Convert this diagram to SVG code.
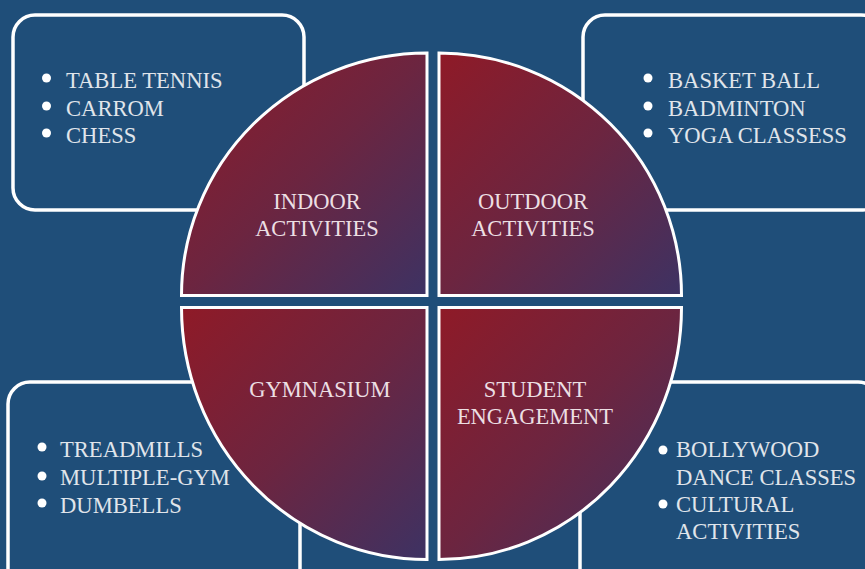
<svg xmlns="http://www.w3.org/2000/svg" width="865" height="569" viewBox="0 0 865 569">
<defs>
<linearGradient id="qg" x1="0" y1="0" x2="1" y2="1">
<stop offset="0" stop-color="#8f1a27"/>
<stop offset="0.5" stop-color="#6c2540"/>
<stop offset="1" stop-color="#3d3263"/>
</linearGradient>
<style>
.box{fill:#1f4e79;stroke:#ffffff;stroke-width:3.5}
.q{fill:url(#qg);stroke:#ffffff;stroke-width:3}
.t{font-family:"Liberation Serif","Times New Roman",serif;font-size:22.6px;fill:#e0e5eb}
.c{font-family:"Liberation Serif","Times New Roman",serif;font-size:22.5px;fill:#ecdfe3;text-anchor:middle}
.b{fill:#ffffff}
</style>
</defs>
<rect width="865" height="569" fill="#1f4e79"/>
<g id="box-indoor">
<rect class="box" x="13" y="15" width="291" height="195" rx="22"/>
<circle class="b" cx="46.5" cy="78" r="4.5"/>
<circle class="b" cx="46.5" cy="106" r="4.5"/>
<circle class="b" cx="46.5" cy="133" r="4.5"/>
<text class="t" x="66" y="88">TABLE TENNIS</text>
<text class="t" x="66" y="115.5">CARROM</text>
<text class="t" x="66" y="143">CHESS</text>
</g>
<g id="box-outdoor">
<rect class="box" x="583" y="15" width="300" height="195" rx="22"/>
<circle class="b" cx="648" cy="78" r="4.5"/>
<circle class="b" cx="648" cy="106" r="4.5"/>
<circle class="b" cx="648" cy="133" r="4.5"/>
<text class="t" x="668" y="88">BASKET BALL</text>
<text class="t" x="668" y="115.5">BADMINTON</text>
<text class="t" x="668" y="143">YOGA CLASSESS</text>
</g>
<g id="box-gym">
<rect class="box" x="8" y="382" width="292" height="215" rx="22"/>
<circle class="b" cx="42" cy="447" r="4.5"/>
<circle class="b" cx="42" cy="476" r="4.5"/>
<circle class="b" cx="42" cy="503" r="4.5"/>
<text class="t" x="60" y="457">TREADMILLS</text>
<text class="t" x="60" y="485">MULTIPLE-GYM</text>
<text class="t" x="60" y="512.5">DUMBELLS</text>
</g>
<g id="box-student">
<rect class="box" x="580" y="382" width="300" height="215" rx="22"/>
<circle class="b" cx="663" cy="450" r="4.5"/>
<circle class="b" cx="663" cy="504" r="4.5"/>
<text class="t" x="676" y="457">BOLLYWOOD</text>
<text class="t" x="676" y="485">DANCE CLASSES</text>
<text class="t" x="676" y="512">CULTURAL</text>
<text class="t" x="676" y="539">ACTIVITIES</text>
</g>
<g id="q-indoor">
<path class="q" d="M427,295.5 L181.5,295.5 A245.5,242.5 0 0 1 427,53 Z"/>
<text class="c" x="317" y="209">INDOOR</text>
<text class="c" x="317" y="236">ACTIVITIES</text>
</g>
<g id="q-outdoor">
<path class="q" d="M439,295.5 L439,53 A242.5,242.5 0 0 1 681.5,295.5 Z"/>
<text class="c" x="533" y="209">OUTDOOR</text>
<text class="c" x="533" y="236">ACTIVITIES</text>
</g>
<g id="q-gym">
<path class="q" d="M427,307.5 L427,559.5 A245.5,252 0 0 1 181.5,307.5 Z"/>
<text class="c" x="320" y="397">GYMNASIUM</text>
</g>
<g id="q-student">
<path class="q" d="M439,307.5 L681.5,307.5 A242.5,252 0 0 1 439,559.5 Z"/>
<text class="c" x="535" y="397">STUDENT</text>
<text class="c" x="535" y="424">ENGAGEMENT</text>
</g>
<g id="connectors"/>
</svg>
